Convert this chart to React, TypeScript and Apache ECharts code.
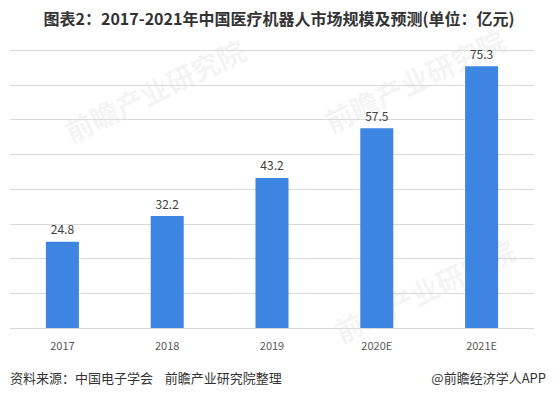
import React, { useEffect, useRef } from "react";
import * as echarts from "echarts";

const categories = ["2017", "2018", "2019", "2020E", "2021E"];
const marketSize = [24.8, 32.2, 43.2, 57.5, 75.3];
const titleText = "图表2：2017-2021年中国医疗机器人市场规模及预测(单位：亿元)";
const sourceText = "资料来源：中国电子学会    前瞻产业研究院整理";
const brandText = "@前瞻经济学人APP";

export default function App() {
  const ref = useRef<HTMLDivElement>(null);
  useEffect(() => {
    if (!ref.current) return;
    const chart = echarts.init(ref.current, null, { renderer: "svg" });
    const wm = (x: number, y: number) => ({
      type: "text",
      x,
      y,
      rotation: Math.PI / 7,
      z: -10,
      silent: true,
      style: {
        text: "前瞻产业研究院",
        fontSize: 28,
        fontWeight: "bold",
        fill: "rgba(190,190,190,0.16)",
        fontFamily: "Noto Sans CJK SC",
      },
    });
    chart.setOption({
      animation: false,
      backgroundColor: "#ffffff",
      title: {
        text: titleText,
        left: "center",
        top: 5,
        textStyle: {
          fontSize: 16,
          fontWeight: "bold",
          color: "#333333",
          fontFamily: "Noto Sans CJK SC",
        },
      },
      grid: { left: 10, right: 24, top: 50, bottom: 67, containLabel: false },
      xAxis: {
        type: "category",
        data: categories,
        axisLine: { lineStyle: { color: "#d9d9d9" } },
        axisTick: { show: false },
        axisLabel: {
          color: "#595959",
          fontSize: 11,
          margin: 11,
          fontFamily: "Noto Sans CJK SC",
        },
      },
      yAxis: {
        type: "value",
        min: 0,
        max: 80,
        interval: 10,
        axisLabel: { show: false },
        axisLine: { show: false },
        axisTick: { show: false },
        splitLine: { lineStyle: { color: "#d9d9d9" } },
      },
      series: [
        {
          type: "bar",
          data: marketSize,
          barWidth: 33,
          itemStyle: { color: "#3d85e0" },
          label: {
            show: true,
            position: "top",
            distance: 7,
            color: "#404040",
            fontSize: 12,
            fontFamily: "Noto Sans CJK SC",
          },
        },
      ],
      graphic: [
        wm(60, 120),
        wm(320, 110),
        wm(330, 320),
        {
          type: "text",
          left: 10,
          top: 371,
          style: {
            text: sourceText,
            fontSize: 13,
            fill: "#333333",
            fontFamily: "Noto Sans CJK SC",
          },
        },
        {
          type: "text",
          right: 12,
          top: 371,
          style: {
            text: brandText,
            fontSize: 13,
            fill: "#333333",
            fontFamily: "Noto Sans CJK SC",
          },
        },
      ],
    });
    return () => chart.dispose();
  }, []);
  return <div ref={ref} style={{ width: 558, height: 395, margin: -8 }} />;
}
